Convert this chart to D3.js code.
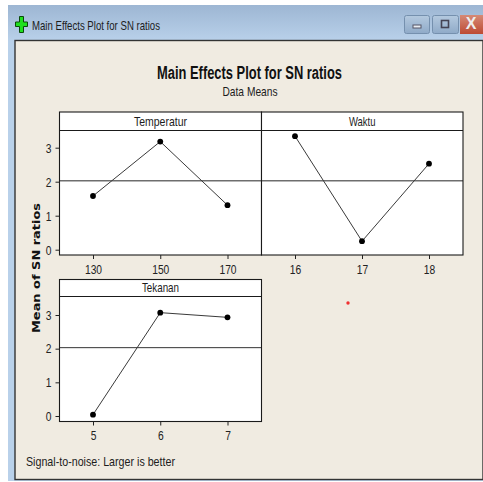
<!DOCTYPE html>
<html>
<head>
<meta charset="utf-8">
<script src="https://d3js.org/d3.v7.min.js"></script>
<style>
  html, body { margin: 0; padding: 0; background: #fff; }
  svg { display: block; }
  text { font-family: "Liberation Sans", Arial, sans-serif; fill: #1c1c1c; }
</style>
</head>
<body>
<div id="chart"></div>
<script>
const yTicks = [0, 1, 2, 3];
const overallMean = 2.03;

const temperaturLevels = ['130', '150', '170'];
const temperaturMeans = [1.58, 3.18, 1.31];
const waktuLevels = ['16', '17', '18'];
const waktuMeans = [3.34, 0.25, 2.53];
const tekananLevels = ['5', '6', '7'];
const tekananMeans = [0.04, 3.07, 2.93];

const width = 483, height = 482;
const svg = d3.select('#chart').append('svg').attr('width', width).attr('height', height);

// squeeze a label to the measured width, the original font is a narrow one
function fit(sel, w) {
  return sel.attr('textLength', w).attr('lengthAdjust', 'spacingAndGlyphs');
}

// window chrome around the plot
const defs = svg.append('defs');
const grad = defs.append('linearGradient').attr('id', 'titlebar')
  .attr('x1', 0).attr('x2', 0).attr('y1', 0).attr('y2', 1);
grad.append('stop').attr('offset', '0%').attr('stop-color', '#9db6d3');
grad.append('stop').attr('offset', '100%').attr('stop-color', '#b9d1ea');
const btn = defs.append('linearGradient').attr('id', 'btn')
  .attr('x1', 0).attr('x2', 0).attr('y1', 0).attr('y2', 1);
btn.append('stop').attr('offset', '0%').attr('stop-color', '#b4c9df');
btn.append('stop').attr('offset', '100%').attr('stop-color', '#8faac8');
const closeBtn = defs.append('linearGradient').attr('id', 'closebtn')
  .attr('x1', 0).attr('x2', 0).attr('y1', 0).attr('y2', 1);
closeBtn.append('stop').attr('offset', '0%').attr('stop-color', '#d68a76');
closeBtn.append('stop').attr('offset', '100%').attr('stop-color', '#bd4a33');

svg.append('rect').attr('x', 8).attr('y', 5).attr('width', 475).attr('height', 476).attr('fill', '#b9d1ea');
svg.append('rect').attr('x', 8).attr('y', 5).attr('width', 475).attr('height', 36).attr('fill', 'url(#titlebar)');
svg.append('rect').attr('x', 15).attr('y', 40.5).attr('width', 468).attr('height', 439)
  .attr('fill', '#f0ebe1').attr('stroke', '#333').attr('stroke-width', 1.4);

svg.append('path').attr('d', 'M15.5,22h4v-5.5h4v5.5h4v4.5h-4v6h-4v-6h-4z')
  .attr('fill', '#1fe01f').attr('stroke', '#0a4a0a').attr('stroke-width', 1);
fit(svg.append('text').attr('x', 32).attr('y', 30).attr('font-size', 13), 128)
  .text('Main Effects Plot for SN ratios');

svg.append('rect').attr('x', 404.5).attr('y', 15.5).attr('width', 25).attr('height', 18).attr('rx', 2)
  .attr('fill', 'url(#btn)').attr('stroke', '#7590ae');
svg.append('rect').attr('x', 413).attr('y', 25).attr('width', 8).attr('height', 3).attr('fill', '#e8edf3').attr('stroke', '#556');
svg.append('rect').attr('x', 432.5).attr('y', 15.5).attr('width', 26).attr('height', 18).attr('rx', 2)
  .attr('fill', 'url(#btn)').attr('stroke', '#7590ae');
svg.append('rect').attr('x', 441.5).attr('y', 20.5).attr('width', 7).attr('height', 7).attr('fill', 'none')
  .attr('stroke', '#445').attr('stroke-width', 1.6);
svg.append('rect').attr('x', 460).attr('y', 15).attr('width', 23).attr('height', 19).attr('fill', 'url(#closebtn)');
svg.append('text').attr('x', 471).attr('y', 29).attr('text-anchor', 'middle').attr('font-size', 16)
  .attr('font-weight', 'bold').style('fill', '#eee').text('X');

// titles
fit(svg.append('text').attr('x', 249.5).attr('y', 79).attr('text-anchor', 'middle')
  .attr('font-size', 18).attr('font-weight', 'bold').style('fill', '#111'), 185)
  .text('Main Effects Plot for SN ratios');
fit(svg.append('text').attr('x', 250).attr('y', 96).attr('text-anchor', 'middle').attr('font-size', 13), 55)
  .text('Data Means');
fit(svg.append('text').attr('transform', 'translate(39.5,268) rotate(-90)').attr('text-anchor', 'middle')
  .attr('font-size', 11).attr('font-weight', 'bold').style('font-family', '"DejaVu Sans", sans-serif')
  .style('fill', '#111'), 130).text('Mean of SN ratios');
fit(svg.append('text').attr('x', 26).attr('y', 466).attr('font-size', 13.5), 149)
  .text('Signal-to-noise: Larger is better');

// red speck in the empty cell
svg.append('circle').attr('cx', 348).attr('cy', 303).attr('r', 1.7).attr('fill', '#f03030');

// one panel per factor
function drawPanel(name, levels, means, box, showY) {
  const g = svg.append('g');
  const x = d3.scalePoint().domain(levels)
    .range([box.left + 33.5, box.right - 34]);
  const y = d3.scaleLinear().domain([0, 3]).range([box.zero, box.three]);

  g.append('rect').attr('x', box.left).attr('y', box.top)
    .attr('width', box.right - box.left).attr('height', box.bottom - box.top).attr('fill', '#fff');

  g.append('line').attr('x1', box.left).attr('x2', box.right)
    .attr('y1', y(overallMean)).attr('y2', y(overallMean))
    .attr('stroke', box.meanColor).attr('stroke-width', box.meanWidth);

  const line = d3.line().x((d, i) => x(levels[i])).y(d => y(d));
  g.append('path').attr('d', line(means)).attr('fill', 'none').attr('stroke', '#3a3a3a').attr('stroke-width', 1);
  g.selectAll('circle').data(means).join('circle')
    .attr('cx', (d, i) => x(levels[i])).attr('cy', d => y(d)).attr('r', 2.9).attr('fill', '#000');

  g.append('rect').attr('x', box.left).attr('y', box.top)
    .attr('width', box.right - box.left).attr('height', box.bottom - box.top)
    .attr('fill', 'none').attr('stroke', '#1a1a1a').attr('stroke-width', 1.1);
  g.append('line').attr('x1', box.left).attr('x2', box.right)
    .attr('y1', box.header).attr('y2', box.header).attr('stroke', '#1a1a1a').attr('stroke-width', 1.1);
  fit(g.append('text').attr('x', (box.left + box.right) / 2).attr('y', box.header - 4.5)
    .attr('text-anchor', 'middle').attr('font-size', 13), name.length * 5.3).text(name);

  const xAxis = g.append('g').attr('transform', `translate(0,${box.bottom})`)
    .call(d3.axisBottom(x).tickSize(4).tickPadding(5));
  xAxis.select('.domain').remove();
  xAxis.selectAll('text').attr('font-size', 13.5)
    .style('font-family', '"Liberation Sans", sans-serif')
    .style('fill', '#222')
    .attr('lengthAdjust', 'spacingAndGlyphs')
    .attr('textLength', d => d.length * 5.7);
  xAxis.selectAll('line').attr('stroke', '#222');

  if (showY) {
    const yAxis = g.append('g').attr('transform', `translate(${box.left},0)`)
      .call(d3.axisLeft(y).tickValues(yTicks).tickFormat(d3.format('d')).tickSize(4).tickPadding(4));
    yAxis.select('.domain').remove();
    yAxis.selectAll('text').attr('font-size', 13.5)
      .style('font-family', '"Liberation Sans", sans-serif')
      .style('fill', '#222')
      .attr('lengthAdjust', 'spacingAndGlyphs')
      .attr('textLength', 5.7);
    yAxis.selectAll('line').attr('stroke', '#222');
  }
}

drawPanel('Temperatur', temperaturLevels, temperaturMeans,
  {left: 59.5, right: 261.5, top: 112, header: 130.5, bottom: 255, zero: 249.7, three: 147.7, meanColor: '#6e6e6e', meanWidth: 1.6}, true);
drawPanel('Waktu', waktuLevels, waktuMeans,
  {left: 261.5, right: 463, top: 112, header: 130.5, bottom: 255, zero: 249.7, three: 147.7, meanColor: '#6e6e6e', meanWidth: 1.6}, false);
drawPanel('Tekanan', tekananLevels, tekananMeans,
  {left: 59.5, right: 261.5, top: 279.5, header: 296.5, bottom: 421.5, zero: 416, three: 315, meanColor: '#333', meanWidth: 1}, true);
</script>
</body>
</html>
